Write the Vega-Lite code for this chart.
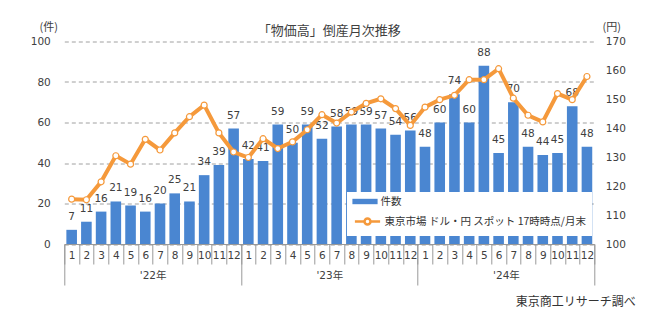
{
  "$schema": "https://vega.github.io/schema/vega-lite/v6.json",
  "width": 530,
  "height": 202.5,
  "autosize": {"type": "none"},
  "padding": {"left": 64.3, "top": 41.5, "right": 57.7, "bottom": 78},
  "background": "white",
  "title": {
    "text": "「物価高」倒産月次推移",
    "font": "Noto Sans CJK JP",
    "fontSize": 13,
    "fontWeight": "normal",
    "color": "#404040",
    "offset": 0,
    "dy": 16
  },
  "config": {
    "view": {"stroke": null},
    "font": "DejaVu Sans"
  },
  "data": {
    "values": [
      {"idx": 0, "count": 7, "rate": 115.5},
      {"idx": 1, "count": 11, "rate": 115.3},
      {"idx": 2, "count": 16, "rate": 121.5},
      {"idx": 3, "count": 21, "rate": 130.5},
      {"idx": 4, "count": 19, "rate": 127.6},
      {"idx": 5, "count": 16, "rate": 136.2},
      {"idx": 6, "count": 20, "rate": 132.5},
      {"idx": 7, "count": 25, "rate": 138.4},
      {"idx": 8, "count": 21, "rate": 144.0},
      {"idx": 9, "count": 34, "rate": 148.0},
      {"idx": 10, "count": 39, "rate": 138.4},
      {"idx": 11, "count": 57, "rate": 131.8},
      {"idx": 12, "count": 42, "rate": 129.9},
      {"idx": 13, "count": 41, "rate": 136.4},
      {"idx": 14, "count": 59, "rate": 133.0},
      {"idx": 15, "count": 50, "rate": 135.3},
      {"idx": 16, "count": 59, "rate": 139.5},
      {"idx": 17, "count": 52, "rate": 144.7},
      {"idx": 18, "count": 58, "rate": 141.8},
      {"idx": 19, "count": 59, "rate": 145.6},
      {"idx": 20, "count": 59, "rate": 148.6},
      {"idx": 21, "count": 57, "rate": 150.2},
      {"idx": 22, "count": 54, "rate": 146.8},
      {"idx": 23, "count": 56, "rate": 141.0},
      {"idx": 24, "count": 48, "rate": 147.3},
      {"idx": 25, "count": 60, "rate": 149.9},
      {"idx": 26, "count": 74, "rate": 151.4},
      {"idx": 27, "count": 60, "rate": 156.8},
      {"idx": 28, "count": 88, "rate": 156.8},
      {"idx": 29, "count": 45, "rate": 160.6},
      {"idx": 30, "count": 70, "rate": 150.4},
      {"idx": 31, "count": 48, "rate": 144.5},
      {"idx": 32, "count": 44, "rate": 142.2},
      {"idx": 33, "count": 45, "rate": 152.0},
      {"idx": 34, "count": 68, "rate": 149.9},
      {"idx": 35, "count": 48, "rate": 157.9}
    ]
  },
  "layer": [
    {
      "mark": {"type": "bar", "width": {"band": 0.72}},
      "encoding": {
        "x": {
          "field": "idx",
          "type": "ordinal",
          "scale": {"paddingInner": 0, "paddingOuter": 0},
          "axis": {
            "title": null,
            "orient": "bottom",
            "ticks": true,
            "domain": true,
            "tickBand": "extent",
            "tickSize": 20,
            "tickColor": "#999999",
            "domainColor": "#999999",
            "labelExpr": "isValid(datum.value) ? datum.value % 12 + 1 : ''",
            "labelAngle": 0,
            "labelPadding": -9,
            "labelBaseline": "middle",
            "labelFontSize": 10.5,
            "labelColor": "#404040",
            "labelOverlap": false,
            "labelBound": false,
            "grid": false
          }
        },
        "y": {
          "field": "count",
          "type": "quantitative",
          "scale": {"domain": [0, 100]},
          "axis": {
            "title": "(件)",
            "titleAngle": 0,
            "titleX": -16,
            "titleY": -14,
            "titleAlign": "center",
            "titleBaseline": "middle",
            "titleFont": "Noto Sans CJK JP",
            "titleFontSize": 11,
            "titleFontWeight": "normal",
            "titleColor": "#404040",
            "values": [0, 20, 40, 60, 80, 100],
            "ticks": false,
            "domain": false,
            "labelPadding": 14,
            "labelFontSize": 10.5,
            "labelColor": "#404040",
            "gridDash": [4, 3],
            "gridColor": "#a0a0a0"
          }
        },
        "fill": {
          "datum": "件数",
          "scale": {"domain": ["件数"], "range": ["#4a86d1"]},
          "legend": {
            "title": null,
            "orient": "none",
            "legendX": 282.7,
            "legendY": 149,
            "zindex": 3,
            "padding": 5,
            "symbolType": "M-2.1,-0.45H2.1V0.45H-2.1Z",
            "symbolSize": 144,
            "symbolOffset": 7,
            "symbolStrokeWidth": 0,
            "labelOffset": 9.6,
            "labelFont": "Noto Sans CJK JP",
            "labelFontSize": 10.5,
            "labelColor": "#333333"
          }
        }
      }
    },
    {
      "mark": {"type": "text", "dy": -10, "baseline": "alphabetic", "fontSize": 10.5, "color": "#404040"},
      "encoding": {
        "x": {"field": "idx", "type": "ordinal", "axis": null},
        "y": {"field": "count", "type": "quantitative", "scale": {"domain": [0, 100]}, "axis": null},
        "text": {"field": "count", "type": "quantitative"}
      }
    },
    {
      "mark": {
        "type": "line",
        "strokeWidth": 4,
        "point": {"filled": false, "fill": "white", "size": 36, "strokeWidth": 1.2}
      },
      "encoding": {
        "x": {
          "field": "idx",
          "type": "ordinal",
          "axis": {
            "orient": "bottom",
            "title": "東京商工リサーチ調べ",
            "titleFont": "Noto Sans CJK JP",
            "titleFontSize": 12,
            "titleFontWeight": "normal",
            "titleColor": "#333333",
            "titleX": 571,
            "titleY": 57.7,
            "titleAlign": "right",
            "titleBaseline": "middle",
            "tickBand": "extent",
            "tickSize": 41,
            "tickColor": "#999999",
            "tickOpacity": {"condition": {"test": "datum.value % 12 == 11 || datum.extra", "value": 1}, "value": 0},
            "domain": false,
            "grid": false,
            "labelExpr": "datum.value == 5 ? \"'22年\" : datum.value == 17 ? \"'23年\" : datum.value == 29 ? \"'24年\" : ''",
            "labelOffset": 7.36,
            "labelPadding": -10,
            "labelBaseline": "middle",
            "labelAngle": 0,
            "labelOverlap": false,
            "labelBound": false,
            "labelFont": "DejaVu Sans, Noto Sans CJK JP",
            "labelFontSize": 10.5,
            "labelColor": "#404040"
          }
        },
        "y": {
          "field": "rate",
          "type": "quantitative",
          "scale": {"domain": [100, 170]},
          "axis": {
            "orient": "right",
            "title": "(円)",
            "titleAngle": 0,
            "titleX": 17,
            "titleY": -14,
            "titleAlign": "center",
            "titleBaseline": "middle",
            "titleFont": "Noto Sans CJK JP",
            "titleFontSize": 11,
            "titleFontWeight": "normal",
            "titleColor": "#404040",
            "values": [100, 110, 120, 130, 140, 150, 160, 170],
            "ticks": false,
            "domain": false,
            "grid": false,
            "labelPadding": 11,
            "labelFontSize": 10.5,
            "labelColor": "#404040"
          }
        },
        "stroke": {
          "datum": "東京市場 ドル・円 スポット 17時時点/月末",
          "scale": {"domain": ["東京市場 ドル・円 スポット 17時時点/月末"], "range": ["#f5993b"]},
          "legend": {
            "title": " ",
            "titleFontSize": 13,
            "titlePadding": 3,
            "orient": "none",
            "legendX": 282.7,
            "legendY": 150.5,
            "zindex": 1,
            "fillColor": "white",
            "padding": 6,
            "symbolType": "M-2.1,0H-0.5M0.5,0H2.1M-0.5,0A0.5,0.5 0 1,1 0.5,0A0.5,0.5 0 1,1 -0.5,0",
            "symbolSize": 144,
            "symbolOffset": 7,
            "symbolStrokeWidth": 2.5,
            "labelOffset": 9.6,
            "labelFont": "Noto Sans CJK JP",
            "labelFontSize": 10.5,
            "labelColor": "#333333",
            "labelLimit": 400
          }
        }
      }
    }
  ],
  "resolve": {
    "scale": {"y": "independent"},
    "axis": {"x": "independent", "y": "independent"}
  }
}
